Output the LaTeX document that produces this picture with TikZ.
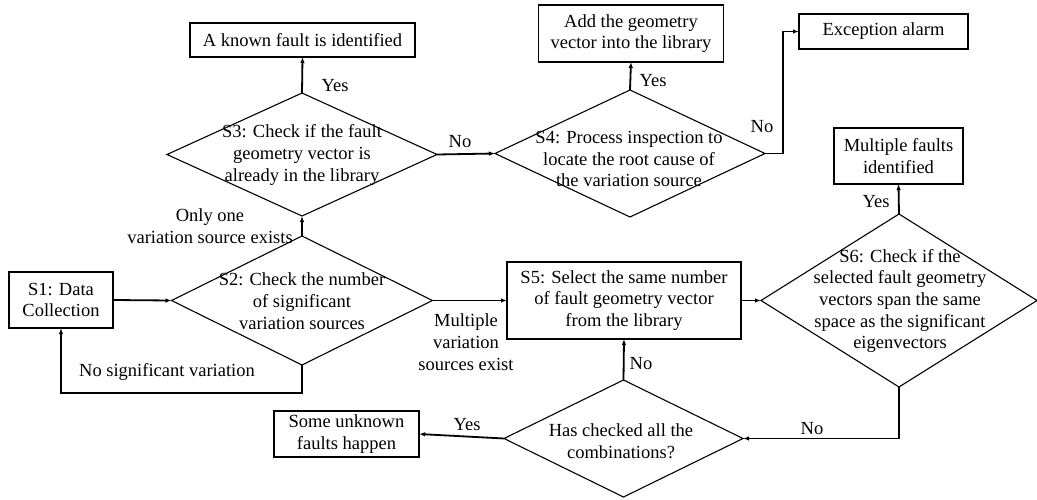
\documentclass[tikz,border=0pt]{standalone}
\usepackage{fontspec}
\setmainfont{Liberation Serif}
\usetikzlibrary{shapes.geometric,arrows.meta}
\tikzset{
  txt/.style={font=\fontsize{18.5}{21.7}\selectfont, inner sep=0pt, align=center},
  box/.style={draw, line width=1.1pt, rectangle, inner sep=0pt, outer sep=0pt, align=center,
              font=\fontsize{18.5}{21.7}\selectfont},
  dia/.style={draw, line width=1.1pt, diamond, inner sep=0pt, outer sep=0pt},
  conn/.style={line width=1.8pt, -{Latex[length=6pt,width=4.5pt]}},
  lab/.style={font=\fontsize{18.5}{21.7}\selectfont, inner sep=0pt, align=center}
}
\begin{document}
\begin{tikzpicture}[x=1pt,y=-1pt]
\useasboundingbox (0,0) rectangle (1037,499);
% boxes
\node[box, minimum width=104pt, minimum height=56pt] (s1) at (61,300) {S1: Data\\Collection};
\node[box, minimum width=225pt, minimum height=34pt] (known) at (302.5,40) {A known fault is identified};
\node[box, minimum width=185pt, minimum height=57pt] (add) at (631,33.5) {Add the geometry\\vector into the library};
\node[box, minimum width=169pt, minimum height=35pt] (alarm) at (883.5,31.5) {Exception alarm};
\node[box, minimum width=129pt, minimum height=56pt] (mult) at (898.5,156) {Multiple faults\\identified};
\node[box, minimum width=234pt, minimum height=77pt] (s5) at (624,300.5) {S5: Select the same number\\of fault geometry vector\\from the library};
\node[box, minimum width=145pt, minimum height=46pt] (unk) at (346.5,434) {Some unknown\\faults happen};
% diamonds
\node[dia, minimum width=270pt, minimum height=123pt] (d3) at (302,154.5) {};
\node[txt] (d3t) at (302,155) {S3: Check if the fault\\geometry vector is\\already in the library};
\node[dia, minimum width=261pt, minimum height=129pt] (d2) at (302,300.5) {};
\node[txt] (d2t) at (302,301) {S2: Check the number\\of significant\\variation sources};
\node[dia, minimum width=270pt, minimum height=127pt] (d4) at (630,153.5) {};
\node[txt] (d4t) at (629,159) {S4: Process inspection to\\locate the root cause of\\the variation source};
\node[dia, minimum width=276pt, minimum height=173pt] (d6) at (899,300.5) {};
\node[txt] (d6t) at (900,301) {S6: Check if the\\selected fault geometry\\vectors span the same\\space as the significant\\eigenvectors};
\node[dia, minimum width=239pt, minimum height=117pt] (d7) at (623.5,438.5) {};
\node[txt] (d7t) at (621,441) {Has checked all the\\combinations?};
% connectors
\draw[conn] (s1.east) -- (d2.west);
\draw[conn] (d2.south) -- ++(0,28) -| (s1.south);
\draw[conn] (d2.north) -- (d3.south);
\draw[conn] (d3.north) -- (known.south);
\draw[conn] (d3.east) -- (d4.west);
\draw[conn] (d4.north) -- (add.south);
\draw[conn] (d4.east) -- ++(18,0) |- (alarm.west);
\draw[conn] (d2.east) -- (s5.west);
\draw[conn] (s5.east) -- (d6.west);
\draw[conn] (d6.north) -- (mult.south);
\draw[conn] (d6.south) |- (d7.east);
\draw[conn] (d7.north) -- (s5.south);
\draw[conn] (d7.west) -- (unk.east);
% labels
\node[lab] (l1) at (167,372) {No significant variation};
\node[lab] (l2) at (210,226) {Only one\\variation source exists};
\node[lab] (l3) at (335,86) {Yes};
\node[lab] (l4) at (460,142) {No};
\node[lab] (l5) at (653,81) {Yes};
\node[lab] (l6) at (762,127) {No};
\node[lab] (l7) at (466,342) {Multiple\\variation\\sources exist};
\node[lab] (l8) at (876,202) {Yes};
\node[lab] (l9) at (641,364) {No};
\node[lab] (l10) at (812,429) {No};
\node[lab] (l11) at (467,425) {Yes};
\end{tikzpicture}
\end{document}
